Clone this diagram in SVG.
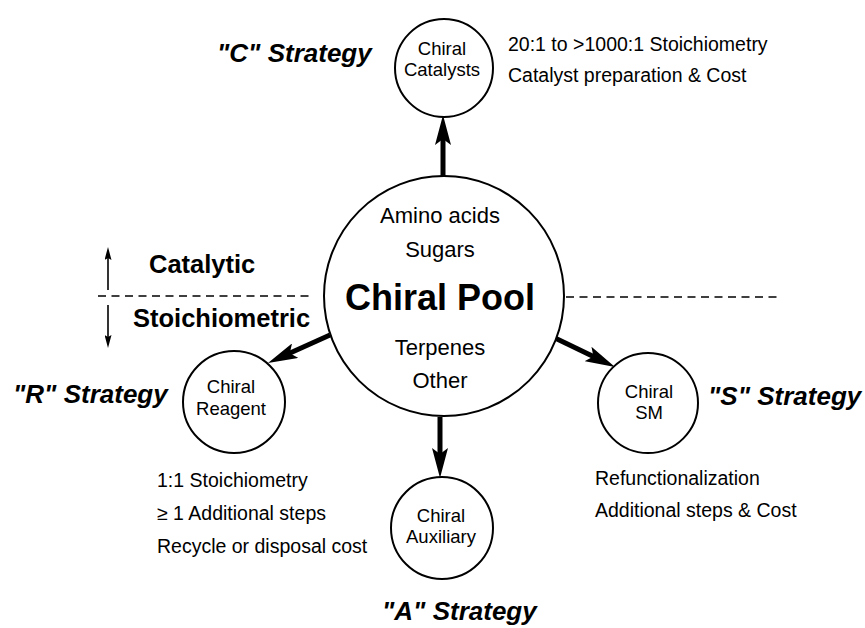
<svg xmlns="http://www.w3.org/2000/svg" width="865" height="628" viewBox="0 0 865 628">
<style>
text{font-family:"Liberation Sans",Arial,Helvetica,sans-serif;fill:#000}
.node{fill:#fff;stroke:#000;stroke-width:2}
.in{font-size:18.5px;text-anchor:middle}
.pool{font-size:22px;text-anchor:middle}
.strat{font-size:26px;font-weight:bold;font-style:italic}
.note{font-size:19.5px}
.side{font-size:25.5px;font-weight:bold}
.thick{stroke:#000;stroke-width:5;fill:none}
.thin{stroke:#000;stroke-width:1.6;fill:none}
.dash{stroke:#000;stroke-width:1.6;stroke-dasharray:8 5.5;fill:none}
</style>
<defs>
<marker id="big" markerUnits="userSpaceOnUse" viewBox="0 0 30 16" markerWidth="30" markerHeight="16" refX="10" refY="8" orient="auto">
<path d="M0,0 L30,8 L0,16 L6,8 z" fill="#000"/>
</marker>
<marker id="small" markerUnits="userSpaceOnUse" viewBox="0 0 13 7" markerWidth="13" markerHeight="7" refX="6" refY="3.5" orient="auto">
<path d="M0,0 L13,3.5 L0,7 L2,3.5 z" fill="#000"/>
</marker>
</defs>
<rect width="865" height="628" fill="#fff"/>

<g id="connectors">
<line class="thick" x1="443" y1="176" x2="443" y2="135" marker-end="url(#big)"/>
<line class="thick" x1="440" y1="417" x2="440" y2="458" marker-end="url(#big)"/>
<line class="thick" x1="330" y1="335" x2="286.2" y2="354.8" marker-end="url(#big)"/>
<line class="thick" x1="555" y1="338" x2="597" y2="358.3" marker-end="url(#big)"/>
</g>

<g id="divider">
<line class="dash" x1="98" y1="296" x2="313" y2="296"/>
<line class="dash" x1="566" y1="297" x2="781" y2="297"/>
<line class="thin" x1="108" y1="290" x2="108" y2="254" marker-end="url(#small)"/>
<line class="thin" x1="108" y1="305" x2="108" y2="341" marker-end="url(#small)"/>
<text class="side" x="149" y="273">Catalytic</text>
<text class="side" x="133" y="327">Stoichiometric</text>
</g>

<g id="chiral-pool">
<circle class="node" cx="444" cy="296" r="120"/>
<text class="pool" x="440" y="223">Amino acids</text>
<text class="pool" x="440" y="257">Sugars</text>
<text x="440" y="310" style="font-size:36px;font-weight:bold;text-anchor:middle">Chiral Pool</text>
<text class="pool" x="440" y="355">Terpenes</text>
<text class="pool" x="440" y="388">Other</text>
</g>

<g id="chiral-catalysts">
<circle class="node" cx="444" cy="68" r="49"/>
<text class="in" x="442" y="55">Chiral</text>
<text class="in" x="442" y="76">Catalysts</text>
</g>

<g id="chiral-reagent">
<circle class="node" cx="234" cy="402" r="51"/>
<text class="in" x="231" y="393">Chiral</text>
<text class="in" x="231" y="415">Reagent</text>
</g>

<g id="chiral-auxiliary">
<circle class="node" cx="442" cy="528" r="51"/>
<text class="in" x="441" y="522">Chiral</text>
<text class="in" x="441" y="543">Auxiliary</text>
</g>

<g id="chiral-sm">
<circle class="node" cx="648" cy="403" r="50"/>
<text class="in" x="649" y="398">Chiral</text>
<text class="in" x="649" y="419">SM</text>
</g>

<g id="labels">
<text class="strat" x="217" y="62">"C" Strategy</text>
<text class="strat" x="13" y="403">"R" Strategy</text>
<text class="strat" x="708" y="405">"S" Strategy</text>
<text class="strat" x="382" y="620">"A" Strategy</text>
<text class="note" x="508" y="51">20:1 to &gt;1000:1 Stoichiometry</text>
<text class="note" x="508" y="82">Catalyst preparation &amp; Cost</text>
<text class="note" x="157" y="487">1:1 Stoichiometry</text>
<text class="note" x="157" y="520">≥ 1 Additional steps</text>
<text class="note" x="157" y="553">Recycle or disposal cost</text>
<text class="note" x="595" y="485">Refunctionalization</text>
<text class="note" x="595" y="517">Additional steps &amp; Cost</text>
</g>
</svg>
